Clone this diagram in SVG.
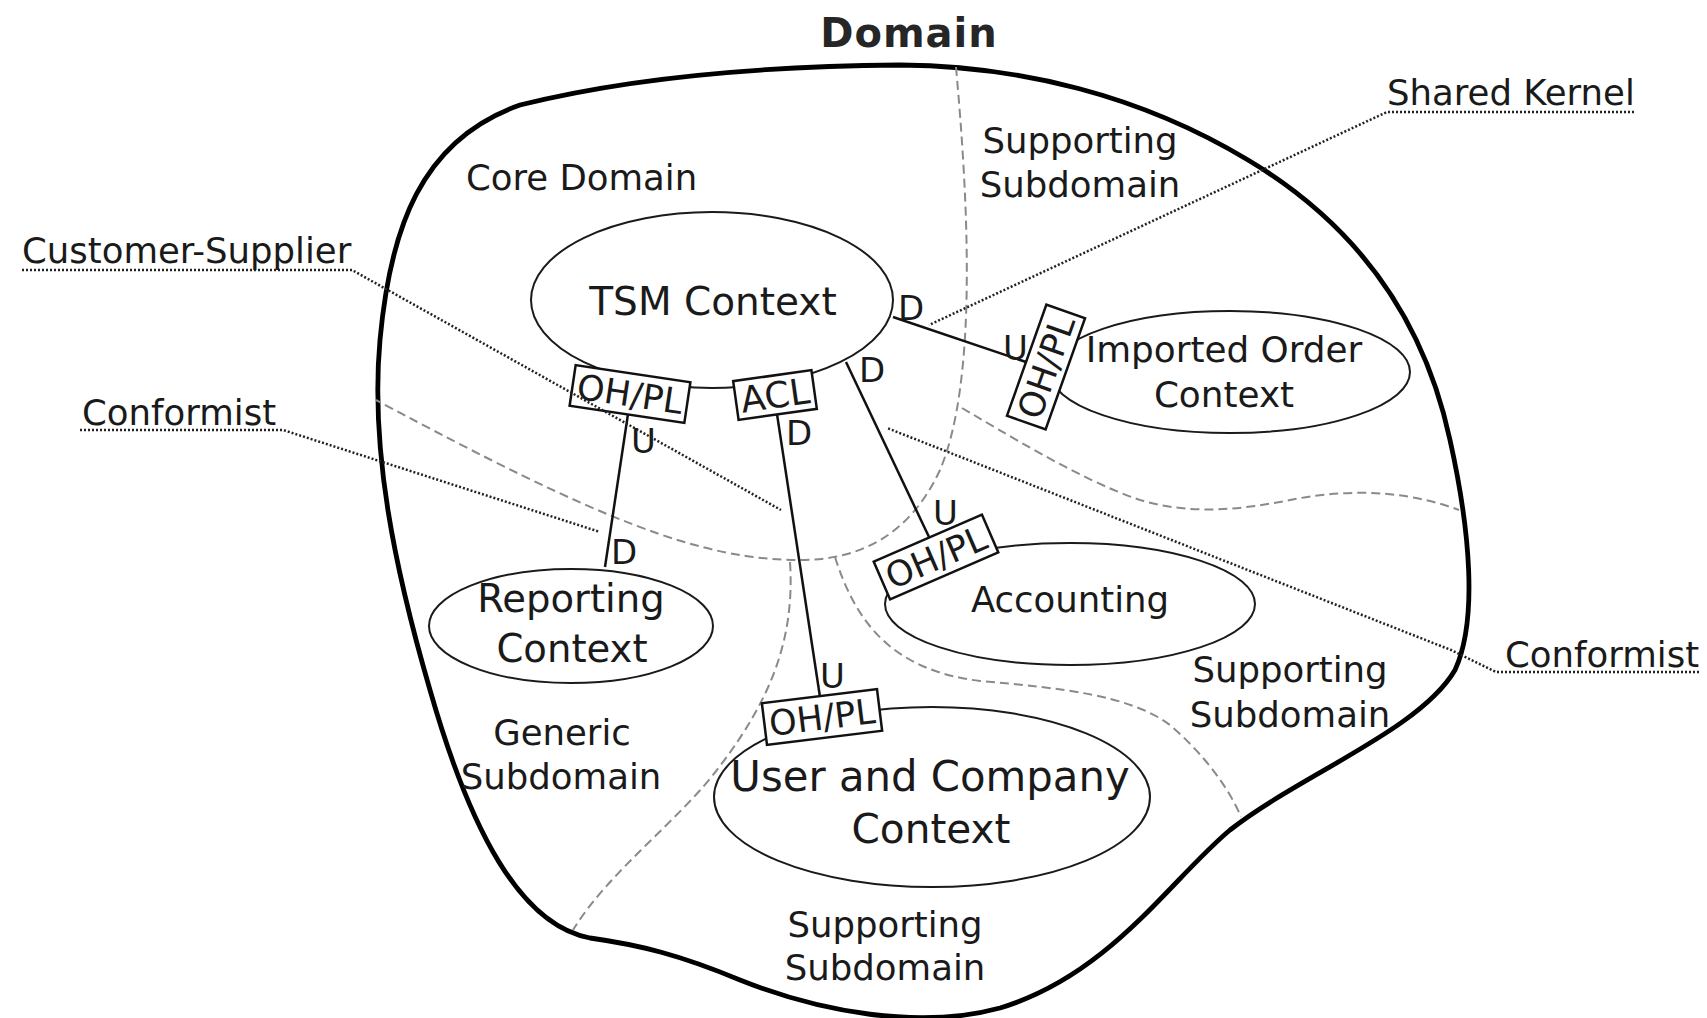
<svg xmlns="http://www.w3.org/2000/svg" width="1707" height="1018" viewBox="0 0 1707 1018">
<style>
text{font-family:"DejaVu Sans","Noto Sans",sans-serif;fill:#1a1a1a}
.outline{fill:none;stroke:#000;stroke-width:4.8;stroke-linejoin:round}
.sub{fill:none;stroke:#8a8a8a;stroke-width:2;stroke-dasharray:9 5}
.ctx{fill:#fff;stroke:#1a1a1a;stroke-width:2}
.conn{fill:none;stroke:#111;stroke-width:2.5}
.box{fill:#fff;stroke:#111;stroke-width:2.5}
.dot{fill:none;stroke:#222;stroke-width:2.5;stroke-dasharray:2 2}
.lbl{font-size:35.5px}
.rel{font-size:34px}
.bt{font-size:35px;text-anchor:middle}
.c{text-anchor:middle}
</style>
<rect width="1707" height="1018" fill="#fff"/>
<g id="domain">
<text x="909" y="47" class="c" style="font-size:40px;font-weight:bold;fill:#262626;letter-spacing:1px">Domain</text>
<path class="outline" d="M900 65 C1020 66 1140 95 1248 160 C1340 215 1420 300 1450 440 C1470 530 1478 620 1455 670 C1420 730 1300 775 1230 830 C1170 880 1110 975 1000 1008 C920 1030 820 1012 740 980 C680 955 640 945 590 938 C520 925 470 830 430 690 C395 570 370 450 380 340 C390 230 420 140 520 105 C640 75 780 66 900 65 Z"/>
</g>
<g id="subdomains">
<path class="sub" d="M956 67 C968 200 978 380 940 470 C910 535 860 560 800 560 C700 560 600 520 376 400"/>
<path class="sub" d="M790 562 C795 640 770 700 720 766 C680 820 610 870 573 930"/>
<path class="sub" d="M835 557 C855 620 890 670 980 681 C1060 688 1130 695 1170 725 C1205 755 1230 790 1241 817"/>
<path class="sub" d="M962 408 C1000 430 1080 480 1140 500 C1190 515 1240 510 1290 500 C1340 490 1400 488 1459 510"/>
<text x="466" y="190" class="lbl">Core Domain</text>
<text x="1080" y="153" class="lbl c">Supporting</text>
<text x="1080" y="197" class="lbl c">Subdomain</text>
<text x="1290" y="682" class="lbl c">Supporting</text>
<text x="1290" y="727" class="lbl c">Subdomain</text>
<text x="562" y="745" class="lbl c">Generic</text>
<text x="561" y="789" class="lbl c">Subdomain</text>
<text x="885" y="937" class="lbl c">Supporting</text>
<text x="885" y="980" class="lbl c">Subdomain</text>
</g>
<g id="connectors">
<line class="conn" x1="893" y1="317" x2="1026" y2="362"/>
<line class="conn" x1="628" y1="414" x2="605" y2="567"/>
<line class="conn" x1="777" y1="414" x2="820" y2="697"/>
<line class="conn" x1="846" y1="362" x2="929" y2="537"/>
<text x="898" y="320" class="rel">D</text>
<text x="1003" y="360" class="rel">U</text>
<text x="631" y="453" class="rel">U</text>
<text x="611" y="564" class="rel">D</text>
<text x="786" y="445" class="rel">D</text>
<text x="820" y="688" class="rel">U</text>
<text x="859" y="382" class="rel">D</text>
<text x="933" y="525" class="rel">U</text>
</g>
<g id="tsm-context">
<ellipse class="ctx" cx="712" cy="300" rx="181" ry="88"/>
<text x="713" y="315" class="c" style="font-size:39px">TSM Context</text>
</g>
<g id="imported-order-context">
<ellipse class="ctx" cx="1230" cy="372" rx="180" ry="61"/>
<text x="1224" y="362" class="c" style="font-size:35.8px">Imported Order</text>
<text x="1224" y="407" class="c" style="font-size:35.8px">Context</text>
</g>
<g id="reporting-context">
<ellipse class="ctx" cx="571" cy="626" rx="142" ry="57"/>
<text x="571" y="612" class="c" style="font-size:38.6px">Reporting</text>
<text x="572" y="662" class="c" style="font-size:38.6px">Context</text>
</g>
<g id="accounting">
<ellipse class="ctx" cx="1070" cy="604" rx="185" ry="61"/>
<text x="1070" y="612" class="lbl c">Accounting</text>
</g>
<g id="user-company-context">
<ellipse class="ctx" cx="932" cy="797" rx="218" ry="90"/>
<text x="930" y="791" class="c" style="font-size:41.8px">User and Company</text>
<text x="931" y="843" class="c" style="font-size:40.6px">Context</text>
</g>
<g id="tsm-ohpl" transform="translate(630,394) rotate(8.5)">
<rect class="box" x="-58" y="-20.5" width="116" height="41"/>
<text x="0" y="12.5" class="bt">OH/PL</text>
</g>
<g id="tsm-acl" transform="translate(775,395) rotate(-8)">
<rect class="box" x="-39.5" y="-19.5" width="79" height="39"/>
<text x="0" y="13" class="bt" style="font-size:36px">ACL</text>
</g>
<g id="imported-ohpl" transform="translate(1046,367) rotate(-70.5)">
<rect class="box" x="-59" y="-20.5" width="118" height="41"/>
<text x="0" y="12.5" class="bt">OH/PL</text>
</g>
<g id="accounting-ohpl" transform="translate(936,557) rotate(-23.5)">
<rect class="box" x="-59" y="-20.5" width="118" height="41"/>
<text x="0" y="12.5" class="bt">OH/PL</text>
</g>
<g id="user-ohpl" transform="translate(822,717) rotate(-7)">
<rect class="box" x="-58" y="-21" width="116" height="42"/>
<text x="0" y="12.5" class="bt">OH/PL</text>
</g>
<g id="callouts">
<polyline class="dot" points="1634,112 1387,112 929,325"/>
<text x="1387" y="105" class="lbl">Shared Kernel</text>
<polyline class="dot" points="22,270 352,270 781,510"/>
<text x="22" y="263" class="lbl">Customer-Supplier</text>
<polyline class="dot" points="80,430 283,430 600,532"/>
<text x="82" y="425" class="lbl">Conformist</text>
<polyline class="dot" points="1699,672 1496,672 1451,650 887,428"/>
<text x="1505" y="667" class="lbl">Conformist</text>
</g>
</svg>
